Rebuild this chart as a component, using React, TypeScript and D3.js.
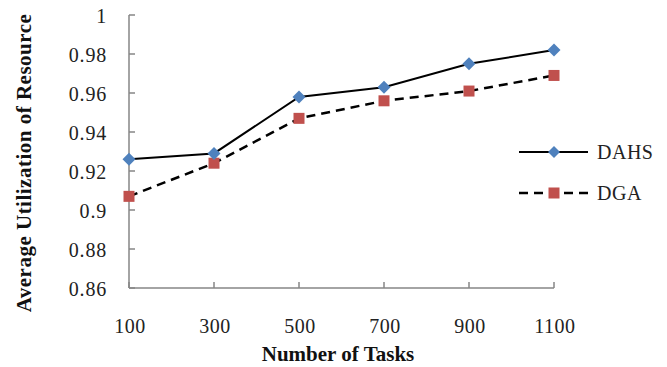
import React from "react";
import * as d3 from "d3";

const categories = ["100", "300", "500", "700", "900", "1100"];
const dahsValues = [0.926, 0.929, 0.958, 0.963, 0.975, 0.982];
const dgaValues = [0.907, 0.924, 0.947, 0.956, 0.961, 0.969];
const yTicks = [0.86, 0.88, 0.9, 0.92, 0.94, 0.96, 0.98, 1];
const seriesNames = ["DAHS", "DGA"];

const W = 667;
const H = 367;
const FONT = '"Liberation Serif", "Times New Roman", Times, "DejaVu Serif", serif';
const BLUE = "#4F81BD";
const RED = "#C0504D";
const AXIS = "#868686";

export default function App() {
  const x = d3.scalePoint<string>().domain(categories).range([129, 554]);
  const y = d3.scaleLinear().domain([0.86, 1]).range([288, 15]);

  const line = d3
    .line<number>()
    .x((_, i) => x(categories[i]) as number)
    .y((d) => y(d));

  const diamond = (cx: number, cy: number, r: number) =>
    `M${cx},${cy - r}L${cx + r},${cy}L${cx},${cy + r}L${cx - r},${cy}Z`;

  const fmt = (v: number) => String(+v.toFixed(2));
  const txt: React.CSSProperties = { fontFamily: FONT };

  return (
    <div style={{ position: "fixed", left: 0, top: 0 }}>
      <svg width={W} height={H} style={{ display: "block", background: "#fff", fontFamily: FONT }}>
        <rect width={W} height={H} fill="#fff" />
        {/* Y axis */}
        <line x1={129} x2={129} y1={y(1)} y2={y(0.86)} stroke={AXIS} strokeWidth={1.5} />
        {yTicks.map((t) => (
          <g key={t}>
            <line x1={129} x2={135} y1={y(t)} y2={y(t)} stroke={AXIS} strokeWidth={1.5} />
            <text
              x={107}
              y={y(t) + 8}
              textAnchor="end"
              style={txt}
              fontSize={20}
              letterSpacing={0.8}
              fill="#222"
            >
              {fmt(t)}
            </text>
          </g>
        ))}
        {/* X axis */}
        <line x1={129} x2={554} y1={288} y2={288} stroke={AXIS} strokeWidth={1.5} />
        {categories.map((c) => (
          <g key={c}>
            <line
              x1={x(c) as number}
              x2={x(c) as number}
              y1={288}
              y2={282}
              stroke={AXIS}
              strokeWidth={1.5}
            />
            <text
              x={(x(c) as number) + 1}
              y={333}
              textAnchor="middle"
              style={txt}
              fontSize={20}
              letterSpacing={0.5}
              fill="#222"
            >
              {c}
            </text>
          </g>
        ))}
        {/* Axis titles */}
        <text
          x={338}
          y={361}
          textAnchor="middle"
          style={txt}
          fontSize={21}
          fontWeight="bold"
          fill="#111"
        >
          Number of Tasks
        </text>
        <text
          transform="translate(31,163) rotate(-90)"
          textAnchor="middle"
          style={txt}
          fontSize={21}
          fontWeight="bold"
          letterSpacing={0.5}
          fill="#111"
        >
          Average Utilization of Resource
        </text>
        {/* Series lines */}
        <path d={line(dgaValues) || ""} fill="none" stroke="#000" strokeWidth={2.5} strokeDasharray="9,6" />
        <path d={line(dahsValues) || ""} fill="none" stroke="#000" strokeWidth={2} />
        {dgaValues.map((v, i) => (
          <rect
            key={"g" + i}
            x={(x(categories[i]) as number) - 5.5}
            y={y(v) - 5.5}
            width={11}
            height={11}
            fill={RED}
          />
        ))}
        {dahsValues.map((v, i) => (
          <path key={"d" + i} d={diamond(x(categories[i]) as number, y(v), 6.5)} fill={BLUE} />
        ))}
        {/* Legend */}
        <line x1={519} x2={588} y1={152} y2={152} stroke="#000" strokeWidth={2} />
        <path d={diamond(554, 152, 6)} fill={BLUE} />
        <text x={597} y={159} style={txt} fontSize={20} letterSpacing={0.5} fill="#222">
          {seriesNames[0]}
        </text>
        <line x1={519} x2={588} y1={193} y2={193} stroke="#000" strokeWidth={2.5} strokeDasharray="9,6" />
        <rect x={548.5} y={187.5} width={11} height={11} fill={RED} />
        <text x={597} y={200} style={txt} fontSize={20} letterSpacing={0.5} fill="#222">
          {seriesNames[1]}
        </text>
      </svg>
    </div>
  );
}
